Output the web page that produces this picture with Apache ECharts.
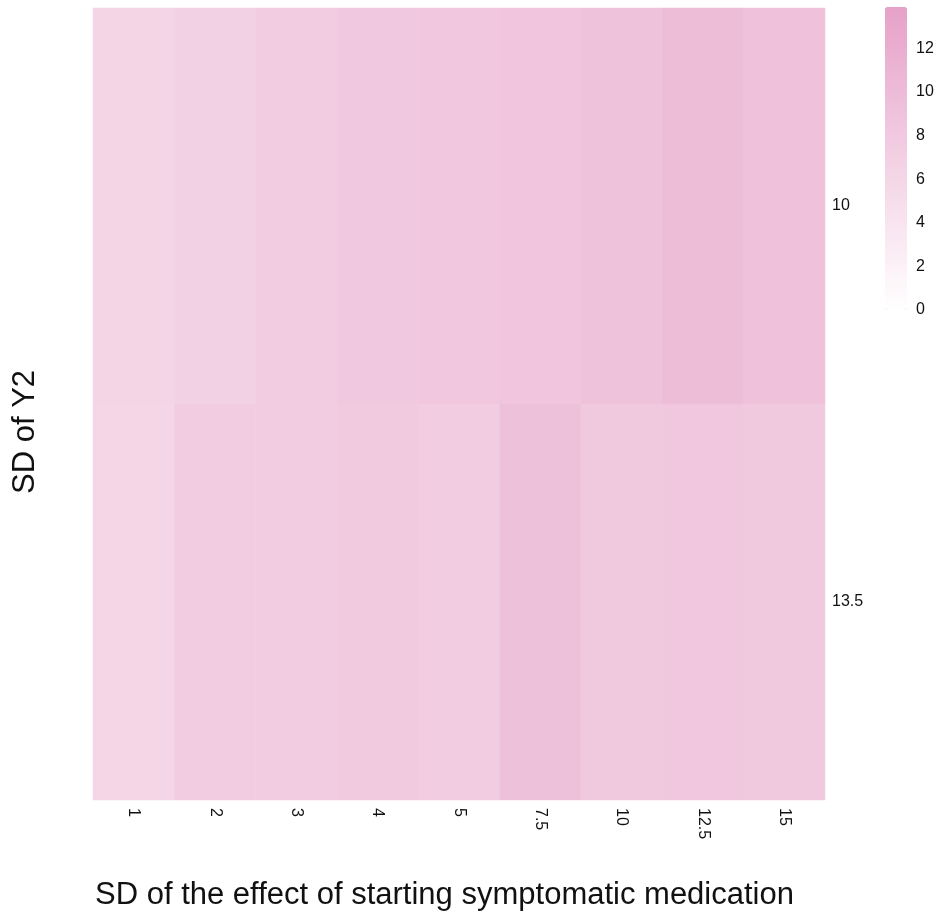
<!DOCTYPE html>
<html>
<head>
<meta charset="utf-8">
<script src="https://cdn.jsdelivr.net/npm/echarts@6/dist/echarts.min.js"></script>
<style>
html,body{margin:0;padding:0;background:#fff;}
#chart{width:944px;height:915px;}
</style>
</head>
<body>
<div id="chart"></div>
<script>
// Data
const xCategories = ['1', '2', '3', '4', '5', '7.5', '10', '12.5', '15'];
const yCategories = ['10', '13.5'];
const valuesSD10   = [6.2, 6.8, 7.5, 8.1, 8.3, 8.6, 9.0, 9.8, 9.1];
const valuesSD13_5 = [6.0, 7.4, 7.4, 7.8, 7.5, 9.2, 8.0, 8.3, 8.0];
const colorMin = 0;
const colorMax = 13.9;
const colorTicks = [0, 2, 4, 6, 8, 10, 12];

const rows = [valuesSD10, valuesSD13_5];
const heatData = [];
rows.forEach((row, yi) => row.forEach((v, xi) => heatData.push([xi, yi, v])));

const FONT = "'Liberation Sans', Arial, sans-serif";
const chart = echarts.init(document.getElementById('chart'), null, {renderer: 'canvas'});
chart.setOption({
  animation: false,
  backgroundColor: '#ffffff',
  grid: [
    {left: 93, right: 119, top: 8, bottom: 115},
    {left: 885, width: 22, top: 7, height: 303}
  ],
  xAxis: [
    {
      type: 'category', gridIndex: 0, data: xCategories,
      axisLine: {show: false}, axisTick: {show: false}, splitLine: {show: false},
      axisLabel: {rotate: -90, fontSize: 16, color: '#111111', fontFamily: FONT, margin: 8}
    },
    {
      type: 'value', gridIndex: 1, show: false, min: 0, max: 1
    }
  ],
  yAxis: [
    {
      type: 'category', gridIndex: 0, data: yCategories, inverse: true, position: 'right',
      axisLine: {show: false}, axisTick: {show: false}, splitLine: {show: false},
      axisLabel: {fontSize: 16, color: '#111111', fontFamily: FONT, margin: 7}
    },
    {
      type: 'value', gridIndex: 1, position: 'right', min: colorMin, max: colorMax, interval: 2,
      axisLine: {show: false}, axisTick: {show: false}, splitLine: {show: false},
      axisLabel: {
        fontSize: 16, color: '#111111', fontFamily: FONT, margin: 9, showMaxLabel: false,
        formatter: v => colorTicks.indexOf(v) >= 0 ? String(v) : ''
      }
    }
  ],
  visualMap: {
    type: 'continuous', min: colorMin, max: colorMax, calculable: false,
    orient: 'vertical', left: 885, top: 7, itemWidth: 22, itemHeight: 303, padding: 0,
    showLabel: false, text: null, seriesIndex: 0,
    inRange: {color: ['#ffffff', '#e6a1c8']}
  },
  graphic: [
    {
      type: 'text', left: 95, top: 880,
      style: {text: 'SD of the effect of starting symptomatic medication', fontSize: 31, fontFamily: FONT, fill: '#111111'}
    },
    {
      type: 'text', x: 10, y: 494, rotation: Math.PI / 2,
      style: {text: 'SD of Y2', fontSize: 31, fontFamily: FONT, fill: '#111111'}
    }
  ],
  series: [{
    type: 'heatmap', xAxisIndex: 0, yAxisIndex: 0, data: heatData,
    label: {show: false}, itemStyle: {borderWidth: 0}
  }]
});
</script>
</body>
</html>
